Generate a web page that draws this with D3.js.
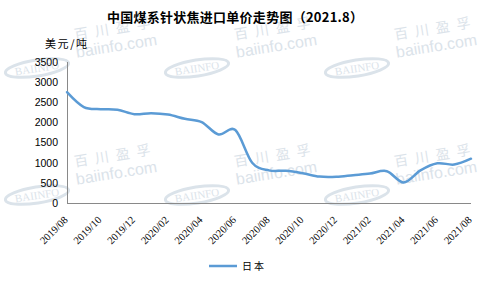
<!DOCTYPE html>
<html>
<head>
<meta charset="utf-8">
<script src="https://cdn.jsdelivr.net/npm/d3@7"></script>
<style>
  body { margin: 0; background: #fff; }
  svg { display: block; }
</style>
</head>
<body>
<div id="chart"></div>
<script>
var width = 495;
var height = 291;

// monthly import price, Japan (USD/t)
var months = ["2019/08","2019/09","2019/10","2019/11","2019/12",
    "2020/01","2020/02","2020/03","2020/04","2020/05","2020/06","2020/07",
    "2020/08","2020/09","2020/10","2020/11","2020/12",
    "2021/01","2021/02","2021/03","2021/04","2021/05","2021/06","2021/07","2021/08"];
var japan = [2750, 2380, 2330, 2315, 2205,
    2230, 2195, 2090, 2010, 1700, 1810, 1000,
    810, 800, 740, 655, 650,
    690, 730, 790, 510, 810, 985, 955, 1100];
var yTicks = [0, 500, 1000, 1500, 2000, 2500, 3000, 3500];
var xTicks = months.filter((d, i) => i % 2 === 0);

var title = "中国煤系针状焦进口单价走势图（2021.8）";
var unit = "美元/吨";
var seriesName = "日本";

// watermark grid
var wmCols = [37, 197, 357];
var wmRows = [68, 195];

var margin = {left: 67, right: 24, top: 62, bottom: 88};

var x = d3.scalePoint()
    .domain(months)
    .range([margin.left, width - margin.right]);

var y = d3.scaleLinear()
    .domain([0, 3500])
    .range([height - margin.bottom, margin.top]);

var svg = d3.select("#chart")
    .append("svg")
    .attr("width", width)
    .attr("height", height);

// watermarks
var wmColor = "#dbe3ea";
var wm = svg.append("g").attr("class", "watermark");
wmRows.forEach(ry => {
    wmCols.forEach(cx => {
        var g = wm.append("g")
            .attr("transform", `translate(${cx},${ry}) rotate(-9)`);
        g.append("ellipse")
            .attr("rx", 32)
            .attr("ry", 8)
            .attr("fill", "none")
            .attr("stroke", wmColor)
            .attr("stroke-width", 3);
        g.append("text")
            .attr("text-anchor", "middle")
            .attr("y", 4)
            .attr("font-family", "Liberation Serif")
            .attr("font-size", 11)
            .attr("fill", wmColor)
            .text("BAIINFO");
        g.append("text")
            .attr("x", 42)
            .attr("y", -22)
            .attr("font-family", "Noto Sans CJK SC")
            .attr("font-size", 14)
            .attr("letter-spacing", 7)
            .attr("fill", wmColor)
            .text("百川盈孚");
        g.append("text")
            .attr("x", 41)
            .attr("y", -4)
            .attr("font-family", "Liberation Sans")
            .attr("font-size", 16)
            .attr("fill", wmColor)
            .text("baiinfo.com");
    });
});

// title
svg.append("text")
    .attr("x", 107)
    .attr("y", 22)
    .attr("font-family", "Noto Sans CJK SC")
    .attr("font-weight", "bold")
    .attr("font-size", 13)
    .attr("textLength", 256)
    .attr("lengthAdjust", "spacing")
    .attr("fill", "#000")
    .text(title);

// unit label
svg.append("text")
    .attr("x", 45)
    .attr("y", 48)
    .attr("font-family", "Noto Sans CJK SC")
    .attr("font-size", 11)
    .attr("textLength", 42)
    .attr("lengthAdjust", "spacing")
    .attr("fill", "#000")
    .text(unit);

// y axis
var yAxis = svg.append("g")
    .attr("transform", `translate(${margin.left},0)`)
    .call(d3.axisLeft(y).tickValues(yTicks).tickSize(0).tickPadding(9).tickFormat(d3.format("d")));
yAxis.select(".domain")
    .attr("stroke", "#898989")
    .attr("d", `M0.5,${y(3500)}V${y(0)}`);
yAxis.selectAll("text")
    .attr("font-family", "Liberation Sans, Arial, sans-serif")
    .attr("font-size", 10.5)
    .attr("fill", "#000");

// x axis
var xAxis = svg.append("g")
    .attr("transform", `translate(0,${y(0) + 0.5})`)
    .call(d3.axisBottom(x).tickValues(xTicks).tickSize(0).tickFormat(d => d));
xAxis.select(".domain")
    .attr("stroke", "#898989")
    .attr("d", `M${margin.left},0H${width - margin.right}`);
xAxis.selectAll("text")
    .attr("font-family", "Liberation Serif, serif")
    .attr("font-size", 10.5)
    .attr("fill", "#000")
    .attr("text-anchor", "end")
    .attr("dy", null)
    .attr("y", 0)
    .attr("transform", "translate(1,17) rotate(-45)");

// line
var line = d3.line()
    .x((d, i) => x(months[i]))
    .y(d => y(d))
    .curve(d3.curveCardinal.tension(0));

svg.append("path")
    .datum(japan)
    .attr("fill", "none")
    .attr("stroke", "#5b9bd5")
    .attr("stroke-width", 2.5)
    .attr("stroke-linecap", "round")
    .attr("d", line);

// legend
var legend = svg.append("g")
    .attr("transform", "translate(209,266)");
legend.append("line")
    .attr("x1", 0)
    .attr("x2", 28)
    .attr("stroke", "#5b9bd5")
    .attr("stroke-width", 2.5);
legend.append("text")
    .attr("x", 33)
    .attr("y", 4)
    .attr("font-family", "Noto Sans CJK SC")
    .attr("font-size", 10)
    .attr("letter-spacing", 2)
    .attr("fill", "#000")
    .text(seriesName);
</script>
</body>
</html>
